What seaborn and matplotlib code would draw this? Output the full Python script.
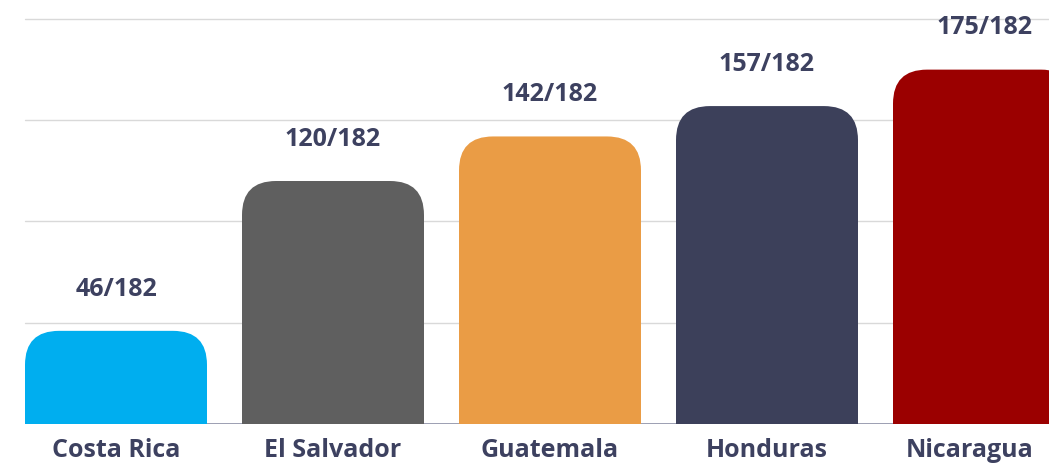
import matplotlib
matplotlib.use("Agg")
import matplotlib.pyplot as plt
import matplotlib.transforms as mtransforms
from matplotlib.patches import FancyBboxPatch
import seaborn as sns
import pandas as pd

countries = ["Costa Rica", "El Salvador", "Guatemala", "Honduras", "Nicaragua"]
scores = [46, 120, 142, 157, 175]
total = 182
bar_colors = ["#00AEEF", "#5F5F5F", "#EA9C45", "#3C405A", "#9B0000"]

text_color = "#3D4160"

sns.set_theme(style="white")
plt.rcParams["font.family"] = ["Open Sans", "DejaVu Sans"]

df = pd.DataFrame({"country": countries, "score": scores})

fig = plt.figure(figsize=(10.49, 4.63), dpi=100)
ax = fig.add_axes([25 / 1049, 39 / 463, 1024 / 1049, 405 / 463])

bar_w = 182 / 217
sns.barplot(data=df, x="country", y="score", hue="country", palette=bar_colors,
            width=bar_w, legend=False, ax=ax, saturation=1)

ax.set_ylim(0, 200)
ax.set_xlim(-bar_w / 2, -bar_w / 2 + 1024 / 217)

# swap plain bars for ones with rounded top corners
r_px = 34
r_x = r_px / 217
r_y = r_px / (405 / 200)
for patch in list(ax.patches):
    x, w, h = patch.get_x(), patch.get_width(), patch.get_height()
    color = patch.get_facecolor()
    patch.remove()
    ax.add_patch(FancyBboxPatch(
        (x, -r_y), w, h + r_y,
        boxstyle=f"round,pad=0,rounding_size={r_x}",
        mutation_aspect=r_y / r_x,
        facecolor=color, edgecolor="none", zorder=2,
    ))

for i, v in enumerate(scores):
    ax.annotate(f"{v}/{total}", (i, v), xytext=(0, 30), textcoords="offset points",
                ha="center", va="center", fontsize=18, fontweight="bold",
                color=text_color, zorder=3, annotation_clip=False)

for y in [50, 100, 150, 200]:
    ax.axhline(y, color="#D9D9D9", lw=1, zorder=0, clip_on=False)
ax.axhline(0, color="#8B8FA6", lw=1.2, zorder=1)

for side in ["top", "right", "left", "bottom"]:
    ax.spines[side].set_visible(False)
ax.set_yticks([])
ax.set_xlabel("")
ax.set_ylabel("")
ax.tick_params(axis="x", length=0, pad=10, labelsize=18, labelcolor=text_color)
for lbl in ax.get_xticklabels():
    lbl.set_fontweight("bold")
last = ax.get_xticklabels()[-1]
last.set_transform(last.get_transform() + mtransforms.ScaledTranslation(-14 / 100, 0, fig.dpi_scale_trans))

fig.savefig("out.png", dpi=100)
plt.close(fig)
